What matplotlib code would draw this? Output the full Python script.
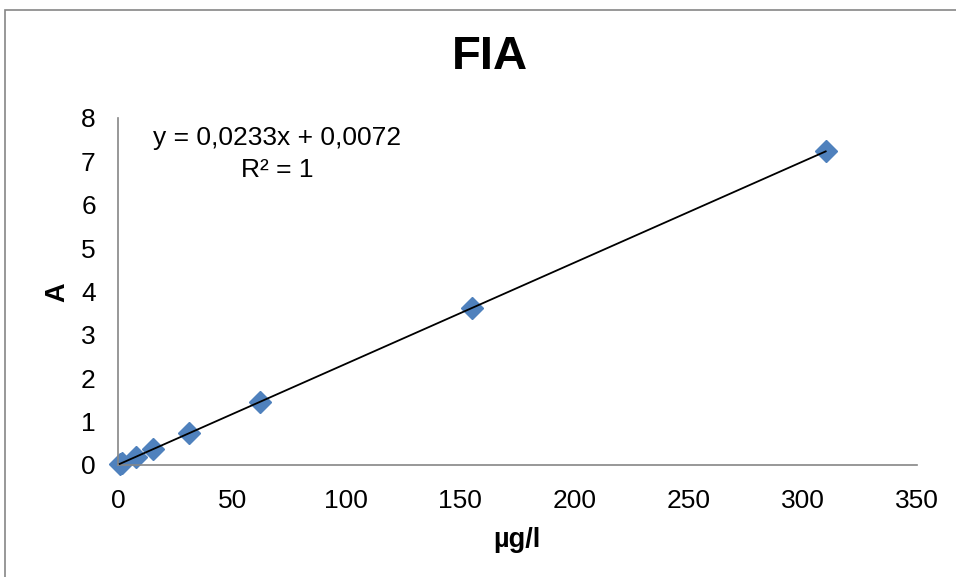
import numpy as np
import matplotlib
matplotlib.use("Agg")
import matplotlib.pyplot as plt
from matplotlib.patches import Rectangle

plt.rcParams['font.family'] = ['Liberation Sans', 'DejaVu Sans']

# data
conc = [0.775, 1.55, 7.75, 15.5, 31, 62, 155, 310]
absorb = [0.025, 0.043, 0.188, 0.368, 0.73, 1.45, 3.62, 7.23]
title = "FIA"
xlabel = "µg/l"
ylabel = "A"
xticks = [0, 50, 100, 150, 200, 250, 300, 350]
yticks = [0, 1, 2, 3, 4, 5, 6, 7, 8]

fig = plt.figure(figsize=(9.56, 5.77), dpi=100)
W, H = 956, 577
ax = fig.add_axes([118 / W, 1 - 465 / H, 799 / W, 347 / H])

ax.plot(conc, absorb, linestyle='none', marker='D', markersize=11,
        color='#4F81BD', zorder=2, clip_on=False)

slope, intercept = np.polyfit(conc, absorb, 1)
xl = np.array([min(conc), max(conc)])
ax.plot(xl, slope * xl + intercept, color='black', linewidth=1.3, zorder=3)

ax.set_xlim(0, 350)
ax.set_ylim(0, 8)
ax.set_xticks(xticks)
ax.set_yticks(yticks)
ax.tick_params(length=0, labelsize=19)
ax.tick_params(axis='x', pad=17.5)
ax.tick_params(axis='y', pad=16)
for s in ['top', 'right']:
    ax.spines[s].set_visible(False)
for s in ['left', 'bottom']:
    ax.spines[s].set_color('#868686')
    ax.spines[s].set_linewidth(1.2)

ax.text(277 / W, 1 - 138 / H, "y = 0,0233x + 0,0072", transform=fig.transFigure,
        ha='center', va='center', fontsize=19)
ax.text(277 / W, 1 - 170 / H, "R² = 1", transform=fig.transFigure,
        ha='center', va='center', fontsize=19)

fig.text(490 / W, 1 - 57 / H, title, ha='center', va='center',
         fontsize=34, fontweight='bold')
fig.text(517 / W, 1 - 540 / H, xlabel, ha='center', va='center',
         fontsize=19.5, fontweight='bold')
fig.text(57 / W, 1 - 292 / H, ylabel, ha='center', va='center',
         fontsize=19.5, fontweight='bold', rotation=90)

fig.patches.append(Rectangle((4.5 / W, -0.1), 1.2, 1 - 9.5 / H + 0.1,
                             transform=fig.transFigure, fill=False,
                             edgecolor='#868686', linewidth=1.2))

fig.savefig("out.png", dpi=100)
